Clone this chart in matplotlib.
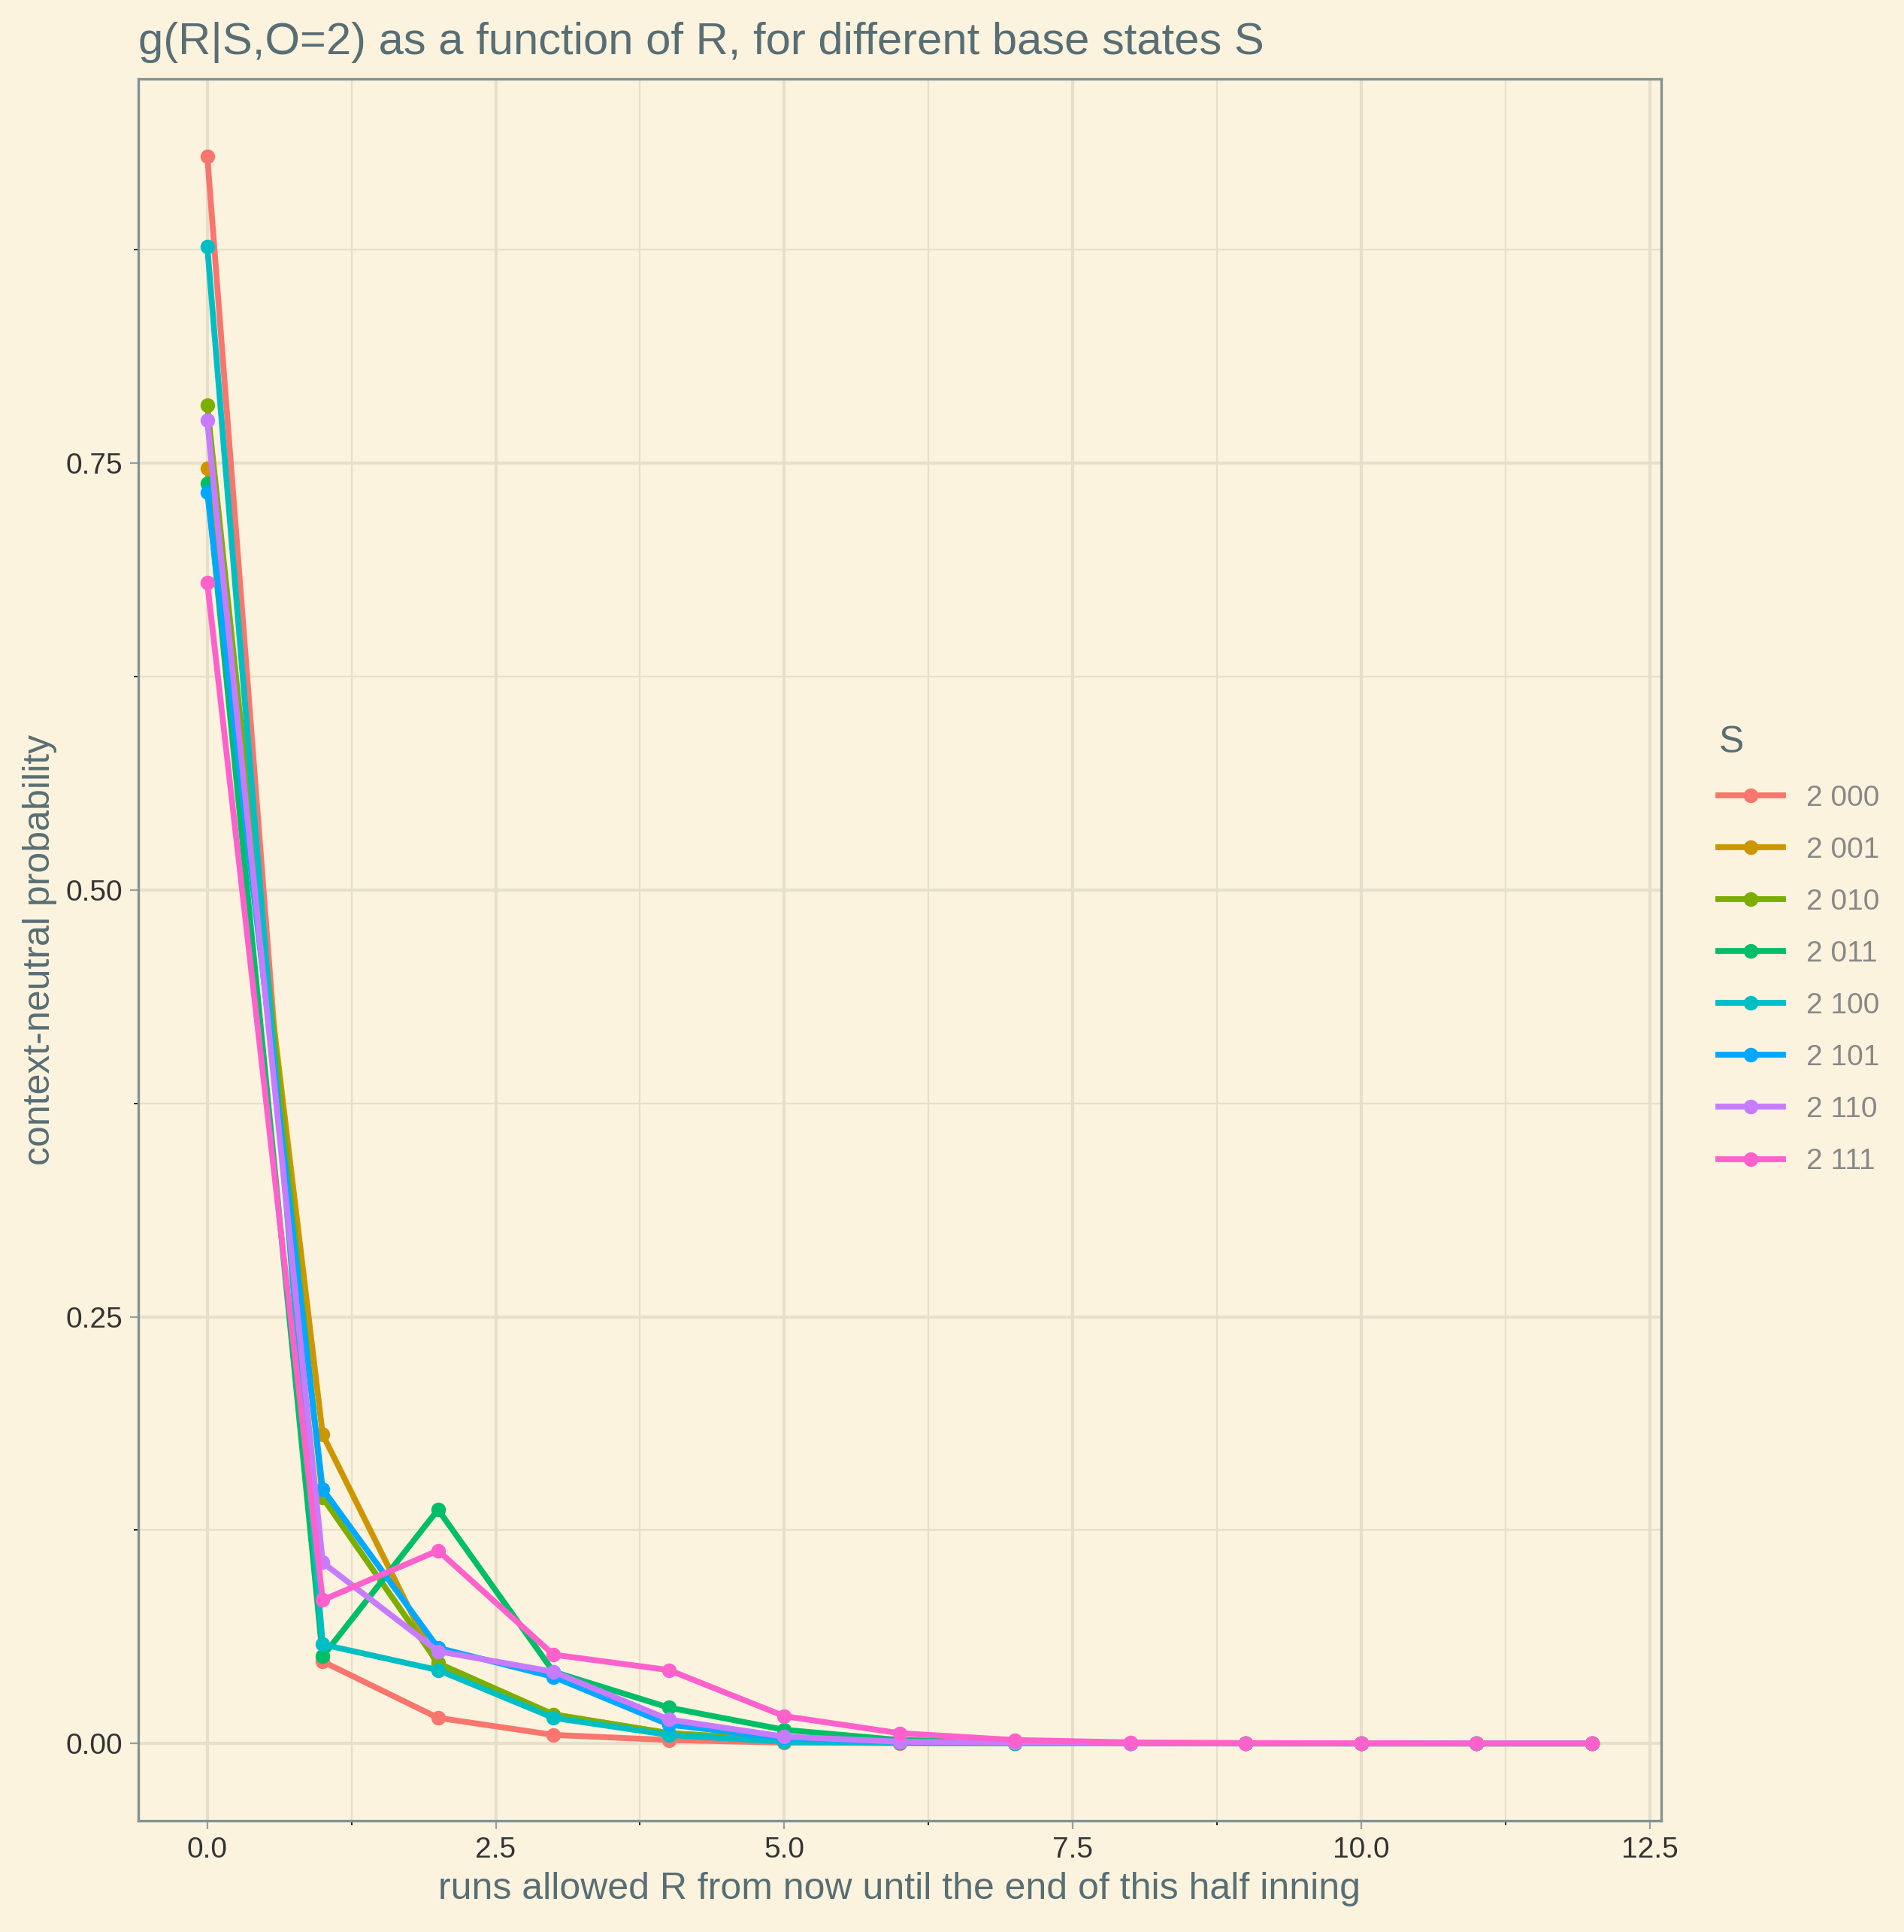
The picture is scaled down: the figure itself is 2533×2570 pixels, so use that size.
import numpy as np
import matplotlib.pyplot as plt

runs = list(range(13))
states = ['2 000', '2 001', '2 010', '2 011', '2 100', '2 101', '2 110', '2 111']
colors = ['#F8766D', '#CD9600', '#7CAE00', '#00BE67', '#00BFC4', '#00A9FF', '#C77CFF', '#FF61CC']

g_2000 = [0.930, 0.048, 0.015, 0.005, 0.002, 0.0005, 0.0002, 0.0001, 0, 0, 0, 0, 0]
g_2001 = [0.747, 0.181, 0.045, 0.017, 0.006, 0.002, 0.0005, 0.0002, 0.0001, 0, 0, 0, 0]
g_2010 = [0.784, 0.144, 0.047, 0.017, 0.006, 0.002, 0.0005, 0.0002, 0.0001, 0, 0, 0, 0]
g_2011 = [0.738, 0.051, 0.137, 0.042, 0.021, 0.008, 0.002, 0.0007, 0.0002, 0.0001, 0, 0, 0]
g_2100 = [0.877, 0.058, 0.043, 0.015, 0.005, 0.001, 0.0003, 0.0001, 0, 0, 0, 0, 0]
g_2101 = [0.733, 0.149, 0.056, 0.039, 0.011, 0.003, 0.001, 0.0003, 0.0001, 0, 0, 0, 0]
g_2110 = [0.775, 0.106, 0.054, 0.042, 0.014, 0.004, 0.001, 0.0004, 0.0001, 0, 0, 0, 0]
g_2111 = [0.680, 0.084, 0.113, 0.052, 0.043, 0.016, 0.006, 0.002, 0.0006, 0.0002, 0.0001, 0, 0]
series = [g_2000, g_2001, g_2010, g_2011, g_2100, g_2101, g_2110, g_2111]

bg = '#FCF3DE'
txt = '#586E75'
plt.rcParams['font.family'] = ['Liberation Sans', 'DejaVu Sans']

fig = plt.figure(figsize=(12.665, 12.85), dpi=200, facecolor=bg)
ax = fig.add_axes([0.0725, 0.0574, 0.80, 0.9016], facecolor=bg)

ax.set_xticks(np.arange(1.25, 12.6, 2.5), minor=True)
ax.set_yticks([0.125, 0.375, 0.625, 0.875], minor=True)
ax.grid(which='major', color='#E6DFCB', lw=1.5)
ax.grid(which='minor', color='#E6DFCB', lw=0.8)
ax.set_axisbelow(True)

for s, v, c in zip(states, series, colors):
    ax.plot(runs, v, color=c, lw=2.8, marker='o', ms=6, label=s)

ax.set_xlim(-0.6, 12.6)
ax.set_ylim(-0.0455, 0.975)
ax.set_xticks([0, 2.5, 5, 7.5, 10, 12.5])
ax.set_xticklabels(['0.0', '2.5', '5.0', '7.5', '10.0', '12.5'])
ax.set_yticks([0, 0.25, 0.5, 0.75])
ax.set_yticklabels(['0.00', '0.25', '0.50', '0.75'])
ax.tick_params(labelsize=14, colors='#93A1A1', labelcolor='#333333', length=4)
for sp in ax.spines.values():
    sp.set_color('#7F9494')
    sp.set_linewidth(1.2)

ax.set_xlabel('runs allowed R from now until the end of this half inning', fontsize=18, color=txt)
ax.set_ylabel('context-neutral probability', fontsize=18, color=txt)
ax.set_title('g(R|S,O=2) as a function of R, for different base states S', fontsize=21.5,
             color=txt, loc='left', pad=12)

leg = ax.legend(title='S', loc='center left', bbox_to_anchor=(1.03, 0.5), frameon=False,
                fontsize=14, title_fontsize=18, handlelength=2.2, labelspacing=0.85,
                borderaxespad=0)
leg._legend_box.align = 'left'
leg.get_title().set_color(txt)
for t in leg.get_texts():
    t.set_color('#888888')

fig.savefig('out.png', dpi=200, facecolor=bg)
